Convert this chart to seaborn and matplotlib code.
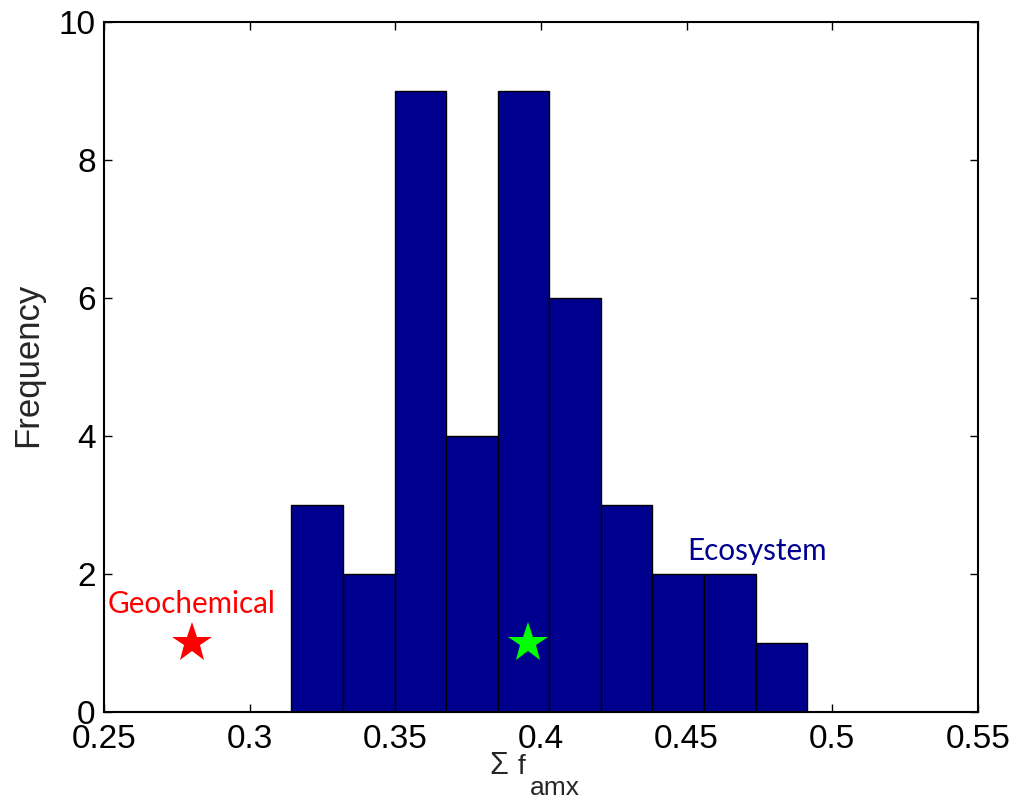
import numpy as np
import pandas as pd
import matplotlib
matplotlib.use("Agg")
import matplotlib.pyplot as plt
import seaborn as sns

# Data
bin_start = 0.3143
bin_end = 0.4914
counts = [3, 2, 9, 4, 9, 6, 3, 2, 2, 1]
geochem_x, geochem_y = 0.2803, 1
eco_x, eco_y = 0.3955, 1
xticks = [0.25, 0.3, 0.35, 0.4, 0.45, 0.5, 0.55]
xticklabels = ["0.25", "0.3", "0.35", "0.4", "0.45", "0.5", "0.55"]
yticks = [0, 2, 4, 6, 8, 10]

sns.set_theme(style="white")
plt.rcParams['font.family'] = ['Liberation Sans', 'DejaVu Sans']

df = pd.DataFrame({
    "x": (np.linspace(bin_start, bin_end, len(counts) + 1)[:-1]
          + (bin_end - bin_start) / len(counts) / 2),
    "w": counts,
})

fig = plt.figure(figsize=(10.18, 8.02), dpi=100)
ax = fig.add_axes([104/1018, 1 - 712/802, (978-104)/1018, (712-22)/802])

sns.histplot(data=df, x="x", weights="w", bins=len(counts),
             binrange=(bin_start, bin_end), ax=ax,
             color="#00008F", alpha=1.0, edgecolor="black", linewidth=1.0)

ax.plot([geochem_x], [geochem_y], marker="*", color="#FF0000", markersize=30,
        markeredgewidth=0, linestyle="none", zorder=5)
ax.plot([eco_x], [eco_y], marker="*", color="#00FF00", markersize=30,
        markeredgewidth=0, linestyle="none", zorder=5)

ax.text(0.2799, 1.565, "Geochemical", color="#FF0000", fontsize=21.3,
        family=["Lato", "DejaVu Sans"], ha="center", va="center", zorder=6)
ax.text(0.4741, 2.33, "Ecosystem", color="#00008F", fontsize=21.3,
        family=["Lato", "DejaVu Sans"], ha="center", va="center", zorder=6)

ax.set_xlim(0.25, 0.55)
ax.set_ylim(0, 10)
ax.set_xticks(xticks)
ax.set_xticklabels(xticklabels)
ax.set_yticks(yticks)
ax.tick_params(axis="both", which="both", direction="in", length=6, width=1,
               labelsize=24, color="black", labelcolor="black",
               top=True, right=True, bottom=True, left=True)
ax.tick_params(axis="x", pad=9)
ax.tick_params(axis="y", pad=6)
ax.set_xlabel("")
ax.set_ylabel("")
for s in ax.spines.values():
    s.set_visible(True)
    s.set_color("black")
    s.set_linewidth(1.5)
ax.grid(False)

# axis labels
fig.text(489/1018, 1 - 774/802, "Σ", fontsize=22, ha="left", va="baseline")
fig.text(518/1018, 1 - 774/802, "f", fontsize=20, ha="left", va="baseline")
fig.text(530/1018, 1 - 795/802, "amx", fontsize=19, ha="left", va="baseline")
fig.text(28/1018, 1 - 365/802, "Frequency", fontsize=25, rotation=90,
         ha="center", va="center")

fig.savefig("out.png", dpi=100)
